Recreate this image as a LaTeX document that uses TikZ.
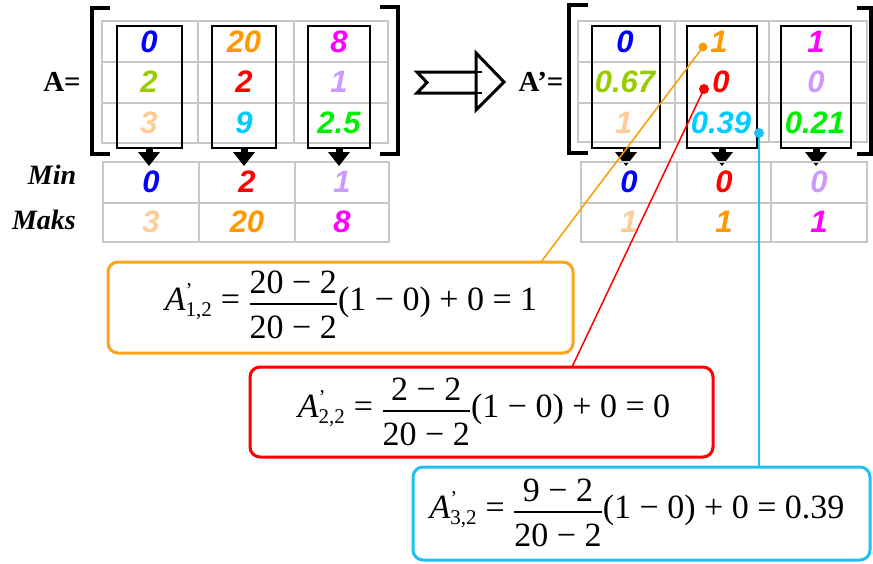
\documentclass[tikz,border=0pt]{standalone}
\usepackage{fontspec}
\setmainfont{Liberation Serif}
\newfontfamily\arialf{Liberation Sans}
\definecolor{cblue}{HTML}{0000FF}
\definecolor{corange}{HTML}{FF9900}
\definecolor{cmag}{HTML}{FF00FF}
\definecolor{cyg}{HTML}{99CC00}
\definecolor{cred}{HTML}{FF0000}
\definecolor{clav}{HTML}{CC99FF}
\definecolor{cpeach}{HTML}{FFCC99}
\definecolor{ccyan}{HTML}{00CCFF}
\definecolor{cgreen}{HTML}{00EE00}
\definecolor{gridc}{HTML}{C8C8C8}
\definecolor{boxorange}{HTML}{FFA31A}
\definecolor{boxcyan}{HTML}{20C0F0}
\newcommand\Aq[1]{\mbox{\itshape A}^{\mbox{\fontsize{21}{21}\selectfont\upshape\char"0027}}_{\mbox{\fontsize{21}{21}\selectfont #1}}}
\newcommand\myfrm[3]{$\Aq{#1}\mbox{ = }\displaystyle{\mbox{\rule[-5pt]{0pt}{5pt}#2}\above1.6pt\mbox{\rule{0pt}{29pt}20 − 2}}\mbox{(1 − 0) + 0 = #3}$}
\begin{document}
\begin{tikzpicture}[x=1pt,y=-1pt,
 val/.style={font=\arialf\bfseries\itshape\fontsize{31}{31}\selectfont, inner sep=0pt},
 lbl/.style={font=\bfseries\itshape\fontsize{28}{28}\selectfont, inner sep=0pt},
 albl/.style={font=\bfseries\fontsize{29}{29}\selectfont, inner sep=0pt},
 gridl/.style={draw=gridc, line width=1.3pt},
 colbox/.style={draw=black, line width=2.2pt},
 brk/.style={line width=4pt, line cap=butt, line join=miter},
 fbox/.style={line width=3pt, rounded corners=10pt, fill=white, inner sep=0pt},
 conn/.style={line width=1.5pt},
 dotc/.style={circle, inner sep=0pt, minimum size=9pt},
 frm/.style={font=\fontsize{34}{36}\selectfont, inner sep=0pt},
 hollow/.style={line width=3pt, line join=miter}]
\useasboundingbox (0,0) rectangle (873,563);

% ---------- left matrix grid ----------
\draw[gridl] (102,21) rectangle (388,143);
\foreach \yy in {62,103} \draw[gridl] (102,\yy) -- (388,\yy);
\foreach \xx in {198,294} \draw[gridl] (\xx,21) -- (\xx,143);
% left min/max grid
\draw[gridl] (103,162) rectangle (389,242);
\draw[gridl] (103,203) -- (389,203);
\foreach \xx in {199,295} \draw[gridl] (\xx,162) -- (\xx,242);
% column boxes
\draw[colbox] (117,26) rectangle (182,148);
\draw[colbox] (212,26) rectangle (276,148);
\draw[colbox] (308,26) rectangle (370,148);
% brackets
\draw[brk] (110,8) -- (92,8) -- (92,154) -- (110,154);
\draw[brk] (380,7) -- (398,7) -- (398,154) -- (380,154);
% down arrows
\foreach \xx in {149,244,339,626,722,816} {
  \fill (\xx-3.5,147) rectangle (\xx+3.5,153);
  \fill (\xx-11,152) -- (\xx+11,152) -- (\xx,166) -- cycle;
}

% ---------- right matrix grid ----------
\draw[gridl] (578,21) rectangle (867,142);
\foreach \yy in {62,103} \draw[gridl] (578,\yy) -- (867,\yy);
\foreach \xx in {675,769} \draw[gridl] (\xx,21) -- (\xx,142);
\draw[gridl] (581,162) rectangle (867,242);
\draw[gridl] (581,203) -- (867,203);
\foreach \xx in {677,771} \draw[gridl] (\xx,162) -- (\xx,242);
\draw[colbox] (592,26) rectangle (660,148);
\draw[colbox] (687,26) rectangle (757,148);
\draw[colbox] (781,26) rectangle (851,148);
\draw[brk] (588,5) -- (569,5) -- (569,153) -- (588,153);
\draw[brk] (857,8) -- (871,8) -- (871,154) -- (857,154);

% ---------- hollow arrow ----------
\draw[line width=2pt] (476,72) -- (482,72) (476,93) -- (482,93);
\draw[hollow] (476,72) -- (417,72) -- (427,82.5) -- (417,93) -- (476,93);
\draw[hollow] (476,53) -- (504,82) -- (476,110) -- cycle;

% ---------- labels ----------
\node[albl] (lA) at (62,82) {A=};
\node[albl] (lA2) at (541,82) {A’=};
\node[lbl] (lmin) at (52,175) {Min};
\node[lbl] (lmaks) at (44,220) {Maks};

% ---------- left values ----------
\node[val, text=cblue]   (a11) at (149,42) {0};
\node[val, text=corange] (a12) at (244,42) {20};
\node[val, text=cmag]    (a13) at (339,42) {8};
\node[val, text=cyg]     (a21) at (149,82) {2};
\node[val, text=cred]    (a22) at (244,82) {2};
\node[val, text=clav]    (a23) at (339,82) {1};
\node[val, text=cpeach]  (a31) at (149,123) {3};
\node[val, text=ccyan]   (a32) at (244,123) {9};
\node[val, text=cgreen]  (a33) at (339,123) {2.5};
\node[val, text=cblue]   (mn1) at (151,182) {0};
\node[val, text=cred]    (mn2) at (247,182) {2};
\node[val, text=clav]    (mn3) at (342,182) {1};
\node[val, text=cpeach]  (mx1) at (151,222) {3};
\node[val, text=corange] (mx2) at (247,222) {20};
\node[val, text=cmag]    (mx3) at (342,222) {8};

% ---------- right values ----------
\node[val, text=cblue]   (b11) at (625,42) {0};
\node[val, text=corange] (b12) at (719,42) {1};
\node[val, text=cmag]    (b13) at (816,42) {1};
\node[val, text=cyg]     (b21) at (625,82) {0.67};
\node[val, text=cred]    (b22) at (721,82) {0};
\node[val, text=clav]    (b23) at (816,82) {0};
\node[val, text=cpeach]  (b31) at (624,123) {1};
\node[val, text=ccyan]   (b32) at (721,123) {0.39};
\node[val, text=cgreen]  (b33) at (815,123) {0.21};
\node[val, text=cblue]   (nm1) at (629,182) {0};
\node[val, text=cred]    (nm2) at (724,182) {0};
\node[val, text=clav]    (nm3) at (819,182) {0};
\node[val, text=cpeach]  (nx1) at (629,222) {1};
\node[val, text=corange] (nx2) at (724,222) {1};
\node[val, text=cmag]    (nx3) at (819,222) {1};

% ---------- dots and connectors ----------
\node[dotc, fill=corange] (d1) at (703,47) {};
\node[dotc, fill=cred, minimum size=10pt] (d2) at (704,89) {};
\node[dotc, fill=boxcyan, minimum size=10pt] (d3) at (759,133) {};
\coordinate (e1) at (541,262);
\coordinate (e2) at (572,367);
\coordinate (e3) at (759,467);
\draw[conn, corange] (d1.center) -- (e1);
\draw[conn, cred] (d2.center) -- (e2);
\draw[conn, boxcyan] (d3.center) -- (e3);

% ---------- formula boxes ----------
\node[fbox, draw=boxorange, minimum width=465pt, minimum height=91pt] (bo) at (340.5,307.5) {};
\node[fbox, draw=cred, minimum width=463pt, minimum height=90pt] (br) at (481.5,412) {};
\node[fbox, draw=boxcyan, minimum width=457pt, minimum height=93pt] (bc) at (641.5,513.5) {};
\node[frm] (f1) at (351,305) {\myfrm{1,2}{20 − 2}{1}};
\node[frm] (f2) at (484,412) {\myfrm{2,2}{2 − 2}{0}};
\node[frm] (f3) at (637,513) {\myfrm{3,2}{9 − 2}{0.39}};
\end{tikzpicture}
\end{document}
